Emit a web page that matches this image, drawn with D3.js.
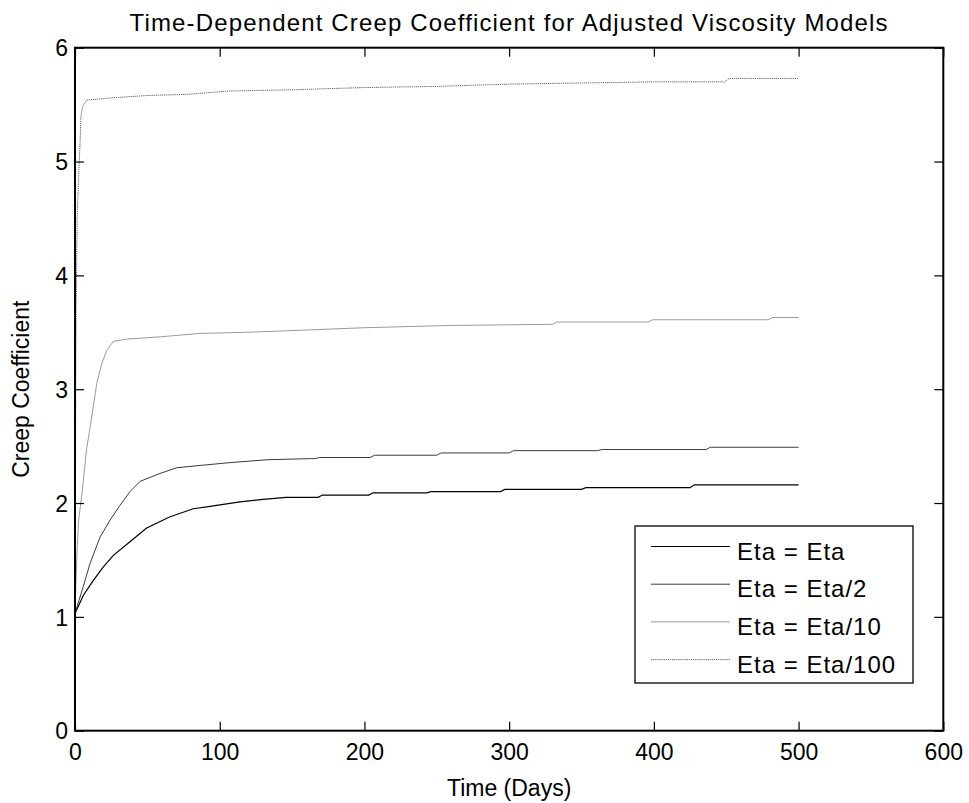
<!DOCTYPE html>
<html><head><meta charset="utf-8">
<script src="https://cdn.jsdelivr.net/npm/d3@7"></script>
<style>
html,body{margin:0;padding:0;background:#fff;}
svg{display:block;font-family:"Liberation Sans",Arial,Helvetica,sans-serif;}
</style></head>
<body>
<svg id="chart" width="969" height="803"></svg>
<script>
// ---- data ----
const seriesNames = ["Eta = Eta", "Eta = Eta/2", "Eta = Eta/10", "Eta = Eta/100"];
const tEta = [0,0.7,5.8,12.7,19.6,26.5,38,49.5,65.7,81.8,93.3,114,128,146,168,171,203,206,243,246,294,297,350,353,425,428,500];
const vEta = [1.03,1.05,1.19,1.32,1.44,1.54,1.66,1.78,1.88,1.95,1.97,2.01,2.03,2.05,2.05,2.07,2.07,2.09,2.09,2.10,2.10,2.12,2.12,2.135,2.135,2.16,2.16];
const tEta2 = [0,0.7,5.8,10.4,17.3,24.2,31.1,38,44.9,58.8,70.3,86.4,107,132.5,162,166,169,204,207,250,253,300,303,361,364,436,439,500];
const vEta2 = [1.04,1.06,1.27,1.47,1.70,1.85,1.98,2.10,2.19,2.26,2.31,2.33,2.355,2.38,2.39,2.39,2.40,2.40,2.42,2.42,2.44,2.44,2.46,2.46,2.47,2.47,2.49,2.49];
const tEta10 = [0,0.7,1.5,2.5,4.6,8,12.7,15,18.4,21.9,26.5,35.7,59,86,119,160,200,260,330,333,396,399,479,482,500];
const vEta10 = [1.05,1.32,1.6,1.85,2.06,2.47,2.85,3.05,3.22,3.34,3.42,3.44,3.46,3.49,3.50,3.52,3.54,3.56,3.57,3.59,3.59,3.61,3.61,3.63,3.63];
const tEta100 = [0,0.2,0.5,0.8,1.2,1.6,2.8,3.5,4.1,5.3,8,26,50,77,107,150,200,250,300,350,400,449,452,500];
const vEta100 = [1.05,1.5,3.0,3.7,4.19,4.55,4.96,5.16,5.40,5.48,5.54,5.56,5.58,5.59,5.62,5.63,5.65,5.66,5.68,5.69,5.70,5.70,5.73,5.73];
const xTicks = [0,100,200,300,400,500,600];
const yTicks = [0,1,2,3,4,5,6];
const titleText = "Time-Dependent Creep Coefficient for Adjusted Viscosity Models";
const xLabel = "Time (Days)";
const yLabel = "Creep Coefficient";

// ---- styles ----
const styles = [
  {stroke:"#000000", width:1.2, dash:null},
  {stroke:"#3a3a3a", width:1.0, dash:null},
  {stroke:"#9a9a9a", width:1.0, dash:null},
  {stroke:"#606060", width:1.0, dash:"1.2,0.9"}
];

const svg = d3.select("#chart");
const L = 75, R = 943.3, T = 47.7, B = 730.7;
const x = d3.scaleLinear().domain([0,600]).range([L,R]);
const y = d3.scaleLinear().domain([0,6]).range([B,T]);

const series = [
  d3.zip(tEta, vEta),
  d3.zip(tEta2, vEta2),
  d3.zip(tEta10, vEta10),
  d3.zip(tEta100, vEta100)
];

const line = d3.line().x(d => x(d[0])).y(d => y(d[1]));

series.forEach((s,i) => {
  svg.append("path").datum(s)
    .attr("d", line)
    .attr("fill","none")
    .attr("stroke", styles[i].stroke)
    .attr("stroke-width", styles[i].width)
    .attr("stroke-dasharray", styles[i].dash);
});

// axes with inward ticks
const tickLen = 9;
const fs = 23;
const gB = svg.append("g").attr("transform",`translate(0,${B})`)
  .call(d3.axisBottom(x).tickValues(xTicks).tickSize(-tickLen).tickPadding(16).tickFormat(d3.format("d")));
const gT = svg.append("g").attr("transform",`translate(0,${T})`)
  .call(d3.axisTop(x).tickValues(xTicks).tickSize(-tickLen).tickFormat(""));
const gL = svg.append("g").attr("transform",`translate(${L},0)`)
  .call(d3.axisLeft(y).tickValues(yTicks).tickSize(-tickLen).tickPadding(16).tickFormat(d3.format("d")));
const gR = svg.append("g").attr("transform",`translate(${R},0)`)
  .call(d3.axisRight(y).tickValues(yTicks).tickSize(-tickLen).tickFormat(""));
[gB,gT,gL,gR].forEach(g => {
  g.select(".domain").remove();
  g.selectAll(".tick line").attr("stroke","#000").attr("stroke-width",1.2);
  g.selectAll(".tick text").attr("fill","#000").attr("font-size",fs).attr("font-family","Liberation Sans, Arial, sans-serif");
});
gB.selectAll(".tick text").attr("dy","0.71em").attr("y", 13);
gL.selectAll(".tick text").attr("x", -7).attr("dy","0.36em");

// box
svg.append("rect").attr("x",L).attr("y",T).attr("width",R-L).attr("height",B-T)
  .attr("fill","none").attr("stroke","#000").attr("stroke-width",2);

// title
svg.append("text").attr("x",(L+R)/2).attr("y",31).attr("text-anchor","middle")
  .attr("font-size",24).attr("letter-spacing",1.15).attr("fill","#000").text(titleText);
// x label
svg.append("text").attr("x",(L+R)/2).attr("y",796).attr("text-anchor","middle")
  .attr("font-size",23).attr("fill","#000").text(xLabel);
// y label
svg.append("text").attr("transform",`translate(29,${(T+B)/2}) rotate(-90)`).attr("text-anchor","middle")
  .attr("font-size",23).attr("fill","#000").text(yLabel);

// legend
const lg = svg.append("g");
const lx0 = 635, ly0 = 526, lw = 278, lh = 157;
lg.append("rect").attr("x",lx0).attr("y",ly0).attr("width",lw).attr("height",lh)
  .attr("fill","#fff").attr("stroke","#000").attr("stroke-width",1.3);
seriesNames.forEach((name,i) => {
  const ry = 546.5 + i*37.7;
  lg.append("line").attr("x1",651).attr("x2",730).attr("y1",ry).attr("y2",ry)
    .attr("stroke",styles[i].stroke).attr("stroke-width",styles[i].width)
    .attr("stroke-dasharray",styles[i].dash);
  lg.append("text").attr("x",737).attr("y",ry+13).attr("font-size",24)
    .attr("letter-spacing",1).attr("fill","#000").text(name);
});
</script>
</body></html>
